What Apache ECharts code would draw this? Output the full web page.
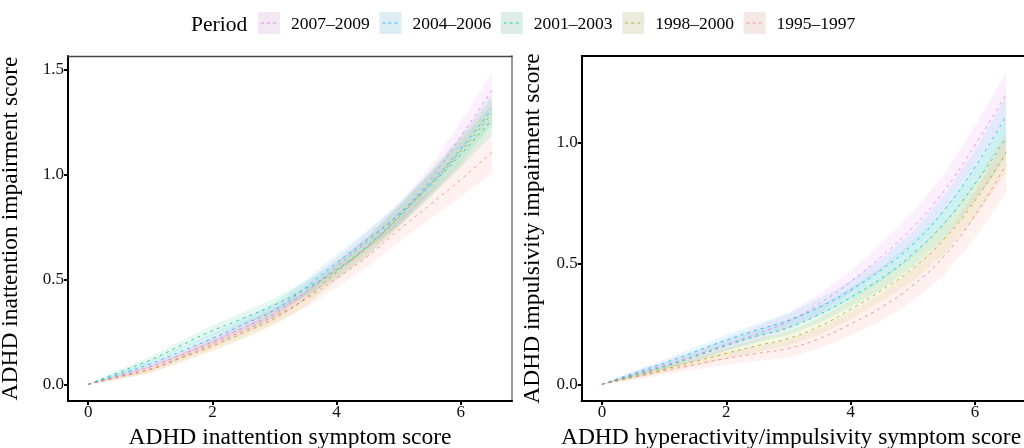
<!DOCTYPE html>
<html>
<head>
<meta charset="utf-8">
<script src="https://cdn.jsdelivr.net/npm/echarts@6/dist/echarts.min.js"></script>
<style>
  html, body { margin: 0; padding: 0; background: #fff; }
  #chart { width: 1024px; height: 448px; }
</style>
</head>
<body>
<div id="chart"></div>
<script>
// symptom score grid (x)
var xs = [0, 0.5, 1, 1.5, 2, 2.5, 3, 3.5, 4, 4.5, 5, 5.5, 6, 6.5];

var periods = ['2007–2009', '2004–2006', '2001–2003', '1998–2000', '1995–1997'];
var colors = ['#E76BF3', '#00B0F6', '#00BF7D', '#A3A500', '#F8766D'];

// left panel: inattention impairment, fitted values
var inatt0709 = [0, 0.04, 0.084, 0.14, 0.203, 0.27, 0.338, 0.44, 0.56, 0.68, 0.81, 0.973, 1.18, 1.40];
var inatt0406 = [0, 0.048, 0.097, 0.157, 0.219, 0.285, 0.354, 0.46, 0.578, 0.69, 0.81, 0.957, 1.12, 1.31];
var inatt0103 = [0, 0.058, 0.116, 0.186, 0.255, 0.315, 0.378, 0.455, 0.545, 0.66, 0.80, 0.945, 1.095, 1.26];
var inatt9800 = [0, 0.035, 0.071, 0.125, 0.182, 0.245, 0.314, 0.41, 0.535, 0.655, 0.795, 0.95, 1.11, 1.29];
var inatt9597 = [0, 0.036, 0.072, 0.13, 0.192, 0.255, 0.325, 0.405, 0.505, 0.61, 0.735, 0.854, 0.975, 1.105];
// half-width of the confidence bands
var inattCi0709 = [0, 0.01, 0.016, 0.02, 0.024, 0.028, 0.032, 0.036, 0.04, 0.045, 0.052, 0.06, 0.07, 0.082];
var inattCi0406 = [0, 0.01, 0.016, 0.02, 0.024, 0.028, 0.032, 0.036, 0.04, 0.044, 0.05, 0.056, 0.064, 0.072];
var inattCi0103 = [0, 0.011, 0.017, 0.021, 0.025, 0.029, 0.033, 0.036, 0.04, 0.044, 0.05, 0.056, 0.064, 0.074];
var inattCi9800 = [0, 0.011, 0.017, 0.021, 0.025, 0.029, 0.033, 0.036, 0.04, 0.045, 0.05, 0.058, 0.066, 0.076];
var inattCi9597 = [0, 0.012, 0.018, 0.023, 0.028, 0.032, 0.036, 0.04, 0.045, 0.05, 0.058, 0.068, 0.082, 0.1];

// right panel: impulsivity impairment, fitted values
var impul0709 = [0, 0.04, 0.078, 0.12, 0.165, 0.21, 0.26, 0.335, 0.425, 0.53, 0.65, 0.80, 0.99, 1.20];
var impul0406 = [0, 0.045, 0.088, 0.135, 0.183, 0.225, 0.265, 0.32, 0.39, 0.475, 0.58, 0.72, 0.90, 1.11];
var impul0103 = [0, 0.037, 0.073, 0.115, 0.16, 0.2, 0.235, 0.29, 0.36, 0.44, 0.54, 0.665, 0.83, 1.02];
var impul9800 = [0, 0.031, 0.062, 0.095, 0.128, 0.16, 0.19, 0.24, 0.31, 0.39, 0.48, 0.60, 0.76, 0.96];
var impul9597 = [0, 0.028, 0.056, 0.082, 0.107, 0.128, 0.149, 0.19, 0.25, 0.32, 0.41, 0.53, 0.70, 0.91];
var impulCi0709 = [0, 0.01, 0.016, 0.021, 0.026, 0.03, 0.034, 0.04, 0.046, 0.053, 0.061, 0.07, 0.08, 0.092];
var impulCi0406 = [0, 0.009, 0.014, 0.018, 0.022, 0.026, 0.03, 0.035, 0.04, 0.046, 0.053, 0.061, 0.07, 0.08];
var impulCi0103 = [0, 0.009, 0.014, 0.018, 0.022, 0.026, 0.03, 0.035, 0.04, 0.046, 0.053, 0.061, 0.07, 0.08];
var impulCi9800 = [0, 0.009, 0.014, 0.018, 0.022, 0.026, 0.03, 0.035, 0.04, 0.046, 0.053, 0.062, 0.072, 0.083];
var impulCi9597 = [0, 0.01, 0.016, 0.021, 0.026, 0.031, 0.036, 0.042, 0.049, 0.057, 0.066, 0.077, 0.095, 0.115];

var xTicks = [0, 2, 4, 6];
var inattYTicks = [0, 0.5, 1, 1.5];
var impulYTicks = [0, 0.5, 1];

var inattLines = [inatt0709, inatt0406, inatt0103, inatt9800, inatt9597];
var inattCis = [inattCi0709, inattCi0406, inattCi0103, inattCi9800, inattCi9597];
var impulLines = [impul0709, impul0406, impul0103, impul9800, impul9597];
var impulCis = [impulCi0709, impulCi0406, impulCi0103, impulCi9800, impulCi9597];

var FONT = '"Liberation Serif", "DejaVu Serif", serif';

function hexA(hex, a) {
  var n = parseInt(hex.slice(1), 16);
  return 'rgba(' + (n >> 16) + ',' + ((n >> 8) & 255) + ',' + (n & 255) + ',' + a + ')';
}

function pairs(ys) {
  return xs.map(function (x, i) { return [x, ys[i]]; });
}

// bands (custom polygons via the axis scales) and dashed lines for one panel
function panelSeries(lines, cis, axisIdx) {
  var bands = [], dashes = [];
  lines.forEach(function (ys, k) {
    var ci = cis[k];
    var rows = xs.map(function (x, i) { return [x, ys[i] - ci[i], ys[i] + ci[i]]; });
    bands.push({
      type: 'custom', xAxisIndex: axisIdx, yAxisIndex: axisIdx,
      data: [0], silent: true, z: 1, clip: true,
      renderItem: function (params, api) {
        var upper = rows.map(function (r) { return api.coord([r[0], r[2]]); });
        var lower = rows.map(function (r) { return api.coord([r[0], r[1]]); }).reverse();
        return {
          type: 'polygon',
          shape: { points: upper.concat(lower) },
          style: { fill: hexA(colors[k], 0.1), stroke: null }
        };
      }
    });
    dashes.push({
      name: periods[k],
      type: 'line', xAxisIndex: axisIdx, yAxisIndex: axisIdx,
      data: pairs(ys), smooth: true, showSymbol: false,
      lineStyle: { color: hexA(colors[k], 0.75), width: 1, type: [3, 4] },
      silent: true, z: 3
    });
  });
  return bands.concat(dashes);
}

function valueX(idx, name, padRight) {
  return {
    type: 'value', gridIndex: idx, min: -0.325, max: 6.825,
    name: name, nameLocation: 'middle', nameGap: 25,
    nameTextStyle: { fontFamily: FONT, fontSize: 23.5, color: '#000', padding: [0, padRight, 0, 0] },
    splitLine: { show: false },
    axisLine: { onZero: false, lineStyle: { color: '#000', width: 2 } },
    axisTick: { customValues: xTicks, length: 4, lineStyle: { color: '#000', width: 2 } },
    axisLabel: { customValues: xTicks, fontFamily: FONT, fontSize: 17, color: '#111', margin: 3 }
  };
}

function valueY(idx, name, min, max, ticks, gap) {
  return {
    type: 'value', gridIndex: idx, min: min, max: max,
    name: name, nameLocation: 'middle', nameGap: gap,
    nameTextStyle: { fontFamily: FONT, fontSize: 23.5, color: '#000' },
    splitLine: { show: false },
    axisLine: { show: true, onZero: false, lineStyle: { color: '#000', width: 2 } },
    axisTick: { show: true, customValues: ticks, length: 4, lineStyle: { color: '#000', width: 2 } },
    axisLabel: {
      customValues: ticks, fontFamily: FONT, fontSize: 17, color: '#111', margin: 4,
      formatter: function (v) { return v.toFixed(1); }
    }
  };
}

// frame lines of the panels (top / right), drawn as bare axes
function frameX(idx, color, width) {
  return {
    type: 'value', gridIndex: idx, position: 'top', min: -0.325, max: 6.825,
    axisLine: { onZero: false, lineStyle: { color: color, width: width } },
    axisTick: { show: false }, axisLabel: { show: false }, splitLine: { show: false }
  };
}

// legend: key boxes with a dashed stroke, built from the period list
var legendItems = [{
  type: 'text', left: 191, top: 14,
  style: { text: 'Period', font: '21.5px ' + FONT, fill: '#000' }
}];
periods.forEach(function (p, k) {
  var x0 = 258 + k * 121.4;
  legendItems.push({
    type: 'rect', shape: { x: x0, y: 12, width: 22, height: 22 },
    style: { fill: hexA(colors[k], 0.1) }
  });
  legendItems.push({
    type: 'rect', shape: { x: x0, y: 12, width: 22, height: 22 },
    style: { fill: 'rgba(127,127,127,0.08)' }
  });
  legendItems.push({
    type: 'line', shape: { x1: x0 + 3, y1: 23, x2: x0 + 20, y2: 23 },
    style: { stroke: hexA(colors[k], 0.75), lineWidth: 1, lineDash: [3, 3] }
  });
  legendItems.push({
    type: 'text', left: x0 + 33, top: 15,
    style: { text: p, font: '17.5px ' + FONT, fill: '#000' }
  });
});

var chart = echarts.init(document.getElementById('chart'));

chart.setOption({
  animation: false,
  backgroundColor: '#fff',
  grid: [
    { left: 68, top: 56, width: 444, height: 345, containLabel: false, outerBoundsMode: 'none' },
    { left: 581.7, top: 56, width: 444.6, height: 345, containLabel: false, outerBoundsMode: 'none' }
  ],
  xAxis: [
    valueX(0, 'ADHD inattention symptom score', 0),
    valueX(1, 'ADHD hyperactivity/impulsivity symptom score', 26),
    frameX(0, '#444', 1.3),
    frameX(1, '#000', 2)
  ],
  yAxis: [
    valueY(0, 'ADHD inattention impairment score', -0.0795, 1.5635, inattYTicks, 45),
    valueY(1, 'ADHD impulsivity impairment score', -0.069, 1.359, impulYTicks, 37),
    {
      type: 'value', gridIndex: 0, position: 'right', min: -0.0795, max: 1.5635,
      axisLine: { show: true, onZero: false, lineStyle: { color: '#999', width: 2 } },
      axisTick: { show: false }, axisLabel: { show: false }, splitLine: { show: false }
    }
  ],
  series: panelSeries(inattLines, inattCis, 0).concat(panelSeries(impulLines, impulCis, 1)),
  graphic: legendItems
});
</script>
</body>
</html>
